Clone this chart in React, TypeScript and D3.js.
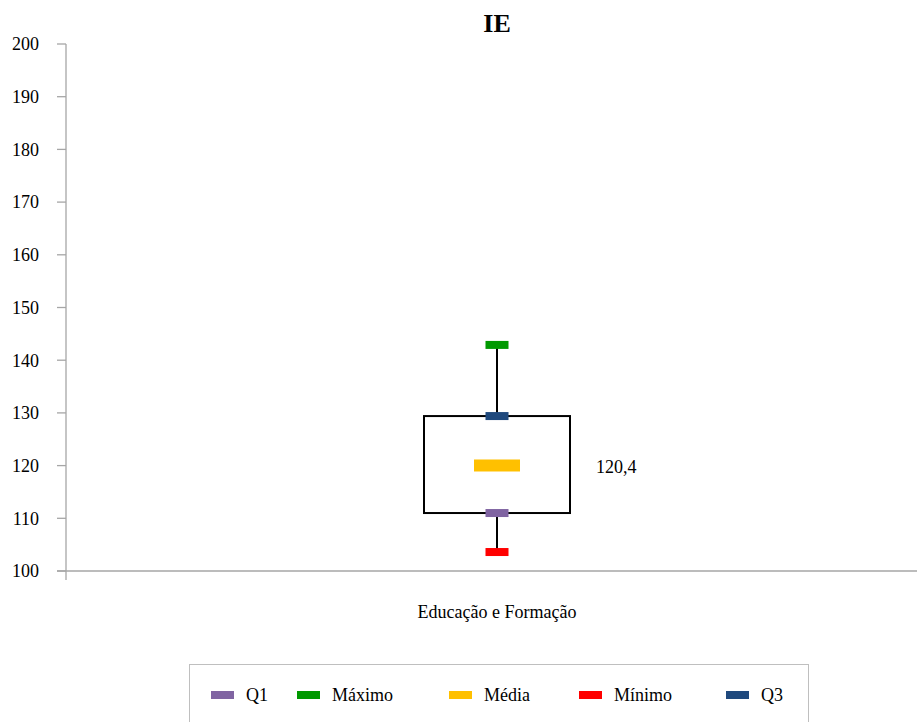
import React from "react";
import * as d3 from "d3";

// IE values for the single category
const categories = ["Educação e Formação"];
const minimo = [103.6];
const q1 = [111.0];
const media = [120.4];
const q3 = [129.4];
const maximo = [142.9];
const yTicks = [100, 110, 120, 130, 140, 150, 160, 170, 180, 190, 200];

const legendItems = [
  { label: "Q1", color: "#8064a2" },
  { label: "Máximo", color: "#009900" },
  { label: "Média", color: "#ffc000" },
  { label: "Mínimo", color: "#ff0000" },
  { label: "Q3", color: "#1f497d" },
];
const legendX = [211, 297, 449, 579, 726];

const width = 918;
const height = 722;
const font = "'Liberation Serif', 'Times New Roman', serif";

export default function App() {
  const y = d3.scaleLinear().domain([100, 200]).range([571, 44]);
  const x = d3.scaleBand().domain(categories).range([66, 928]);
  const fmt = (v: number) => v.toFixed(1).replace(".", ",");

  return (
    <svg
      width={width}
      height={height}
      style={{ position: "absolute", left: 0, top: 0, background: "#fff", fontFamily: font }}
    >
      <text x={497} y={32} textAnchor="middle" fontSize={26} fontWeight="bold">
        IE
      </text>

      {/* y axis */}
      <line x1={66} x2={66} y1={y(200)} y2={580} stroke="#a6a6a6" strokeWidth={1.3} />
      {yTicks.map((t) => (
        <g key={t}>
          <line x1={57} x2={66} y1={y(t)} y2={y(t)} stroke="#a6a6a6" strokeWidth={1.3} />
          <text x={39} y={y(t)} dy="0.35em" textAnchor="end" fontSize={18}>
            {t}
          </text>
        </g>
      ))}
      {/* x axis */}
      <line x1={57} x2={917} y1={y(100)} y2={y(100)} stroke="#a6a6a6" strokeWidth={1.3} />

      {categories.map((c, i) => {
        const cx = (x(c) ?? 0) + x.bandwidth() / 2;
        const bw = 146;
        return (
          <g key={c}>
            <line x1={cx} x2={cx} y1={y(minimo[i])} y2={y(q1[i])} stroke="#000" strokeWidth={2} />
            <line x1={cx} x2={cx} y1={y(q3[i])} y2={y(maximo[i])} stroke="#000" strokeWidth={2} />
            <rect
              x={cx - bw / 2}
              y={y(q3[i])}
              width={bw}
              height={y(q1[i]) - y(q3[i])}
              fill="none"
              stroke="#000"
              strokeWidth={2}
            />
            <rect x={cx - 11.5} y={y(maximo[i]) - 4} width={23} height={8} fill="#009900" />
            <rect x={cx - 11.5} y={y(q3[i]) - 4} width={23} height={8} fill="#1f497d" />
            <rect x={cx - 11.5} y={y(q1[i]) - 4} width={23} height={8} fill="#8064a2" />
            <rect x={cx - 11.5} y={y(minimo[i]) - 4} width={23} height={8} fill="#ff0000" />
            <rect x={cx - 23} y={y(media[i]) - 4} width={46} height={12} fill="#ffc000" />
            <text x={cx + 99} y={y(media[i]) + 9.5} fontSize={18}>
              {fmt(media[i])}
            </text>
            <text x={cx} y={618} textAnchor="middle" fontSize={18}>
              {c}
            </text>
          </g>
        );
      })}

      {/* legend */}
      <rect x={189.5} y={664.5} width={619} height={70} fill="#fff" stroke="#bfbfbf" strokeWidth={1} />
      {legendItems.map((d, i) => (
        <g key={d.label}>
          <rect x={legendX[i]} y={691} width={23} height={8} fill={d.color} />
          <text x={legendX[i] + 35} y={701} fontSize={18}>
            {d.label}
          </text>
        </g>
      ))}
    </svg>
  );
}
